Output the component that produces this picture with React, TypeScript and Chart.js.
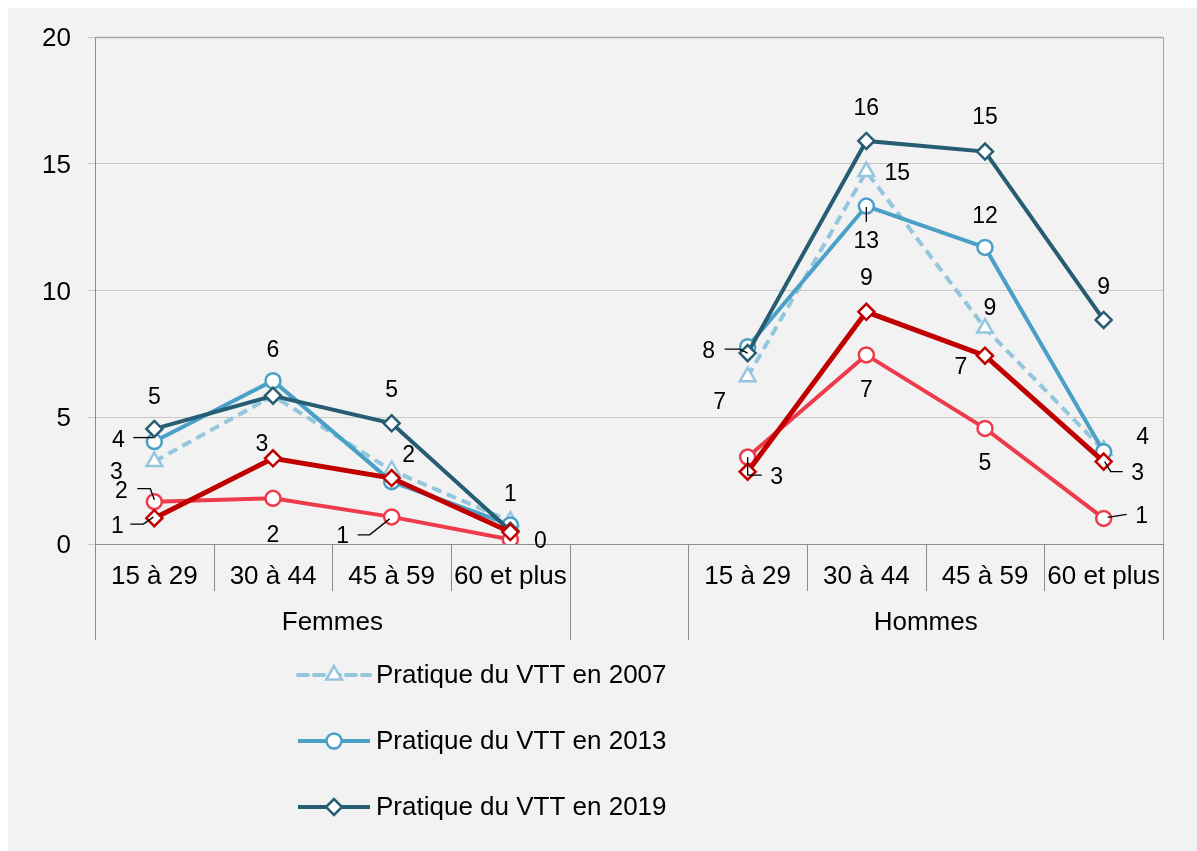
import React, { useEffect, useRef } from 'react';
import { Chart, registerables } from 'chart.js';

Chart.register(...registerables);

// ---------- Data ----------
const GROUPS = ['Femmes', 'Hommes'];
const AGE_GROUPS = ['15 à 29', '30 à 44', '45 à 59', '60 et plus'];
const CATEGORIES = [...AGE_GROUPS, '', ...AGE_GROUPS];

const LEGEND_LABELS = [
  'Pratique du VTT en 2007',
  'Pratique du VTT en 2013',
  'Pratique du VTT en 2019',
];

const VTT_2007 = [3.25, 5.85, 2.9, 0.9, null, 6.6, 14.69, 8.52, 3.7];
const VTT_2013 = [4.04, 6.44, 2.46, 0.75, null, 7.78, 13.33, 11.7, 3.64];
const VTT_2019 = [4.54, 5.85, 4.76, 0.52, null, 7.53, 15.9, 15.48, 8.84];
const SERIE_ROUGE_CLAIR = [1.67, 1.8, 1.07, 0.18, null, 3.43, 7.46, 4.56, 1.01];
const SERIE_ROUGE_FONCE = [1.02, 3.38, 2.6, 0.47, null, 2.85, 9.16, 7.43, 3.25];

const Y_MIN = 0;
const Y_MAX = 20;
const Y_STEP = 5;

// ---------- Styles ----------
const FONT = "'Liberation Sans', Arial, sans-serif";
const C_2007 = '#94c6dd';
const C_2013 = '#4aa0c6';
const C_2019 = '#265d73';
const C_RED_LIGHT = '#ee3b4b';
const C_RED_DARK = '#c00000';
const AXIS_COLOR = '#8c8c8c';
const GRID_COLOR = '#c8c8c8';

type Lbl = { dx: number; dy: number; leader?: number[][] } | null;

// label placement offsets (pixels, relative to each point)
const LABEL_LAYOUT: Lbl[][] = [
  [{ dx: -38, dy: 10 }, null, null, null, null, { dx: -28, dy: 24 }, { dx: 31, dy: 1 }, { dx: 5, dy: -21 }, null],
  [
    { dx: -36, dy: -2, leader: [[-21, -4], [-1, -4]] },
    { dx: 0, dy: -32 },
    { dx: 17, dy: -27 },
    { dx: 0, dy: -32 },
    null,
    null,
    { dx: 0, dy: 34, leader: [[0, 1], [0, 16]] },
    { dx: 0, dy: -32 },
    { dx: 39, dy: -16 },
  ],
  [
    { dx: 0, dy: -33 },
    null,
    { dx: 0, dy: -34 },
    null,
    null,
    { dx: -39, dy: -3, leader: [[-23, -4], [-8, -4], [0, 0]] },
    { dx: 0, dy: -34 },
    { dx: 0, dy: -35 },
    { dx: 0, dy: -34 },
  ],
  [
    { dx: -33, dy: -12, leader: [[-17, -13], [-4, -13], [0, -2]] },
    { dx: 0, dy: 36 },
    { dx: -49, dy: 18, leader: [[-34, 18], [-22, 18], [-2, 2]] },
    { dx: 30, dy: 1 },
    null,
    { dx: 29, dy: 19, leader: [[0, 0], [0, 18], [14, 18]] },
    { dx: 0, dy: 34 },
    { dx: 0, dy: 34 },
    { dx: 38, dy: -3, leader: [[4, -1], [23, -4]] },
  ],
  [
    { dx: -37, dy: 7, leader: [[-24, 6], [-11, 6], [-1, -1]] },
    { dx: -11, dy: -15 },
    null,
    null,
    null,
    null,
    { dx: 0, dy: -35 },
    { dx: -24, dy: 11 },
    { dx: 34, dy: 11, leader: [[1, 0], [7, 10], [19, 10]] },
  ],
];

function drawMarker(ctx: CanvasRenderingContext2D, style: string, x: number, y: number, r: number) {
  ctx.beginPath();
  if (style === 'circle') {
    ctx.arc(x, y, r, 0, Math.PI * 2);
  } else if (style === 'triangle') {
    for (let k = 0; k < 3; k++) {
      const a = (k * 2 * Math.PI) / 3;
      const px = x + Math.sin(a) * r;
      const py = y - Math.cos(a) * r;
      if (k === 0) ctx.moveTo(px, py);
      else ctx.lineTo(px, py);
    }
  } else {
    ctx.moveTo(x - r, y);
    ctx.lineTo(x, y - r);
    ctx.lineTo(x + r, y);
    ctx.lineTo(x, y + r);
  }
  ctx.closePath();
  ctx.fill();
  ctx.stroke();
}

const decorPlugin = {
  id: 'decor',
  afterDatasetsDraw(chart: any) {
    const ctx: CanvasRenderingContext2D = chart.ctx;
    ctx.save();
    ctx.font = `23px ${FONT}`;
    ctx.fillStyle = '#000';
    ctx.textAlign = 'center';
    ctx.textBaseline = 'middle';
    ctx.strokeStyle = '#000';
    ctx.lineWidth = 1.3;
    chart.data.datasets.forEach((ds: any, di: number) => {
      const meta = chart.getDatasetMeta(di);
      ds.data.forEach((v: number | null, i: number) => {
        const cfg = LABEL_LAYOUT[di][i];
        if (v === null || !cfg) return;
        const pt = meta.data[i];
        if (cfg.leader) {
          ctx.beginPath();
          cfg.leader.forEach((p, k) => {
            if (k === 0) ctx.moveTo(pt.x + p[0], pt.y + p[1]);
            else ctx.lineTo(pt.x + p[0], pt.y + p[1]);
          });
          ctx.stroke();
        }
        ctx.fillText(String(Math.round(v)), pt.x + cfg.dx, pt.y + cfg.dy + 1.5);
      });
    });
    ctx.restore();
  },
  afterDraw(chart: any) {
    const ctx: CanvasRenderingContext2D = chart.ctx;
    const xs = chart.scales.x;
    const area = chart.chartArea;
    const n = CATEGORIES.length;
    const step = xs.getPixelForValue(1) - xs.getPixelForValue(0);
    ctx.save();
    // plot border top / right
    ctx.strokeStyle = '#a6a6a6';
    ctx.lineWidth = 1.3;
    ctx.beginPath();
    ctx.moveTo(area.left, area.top + 0.5);
    ctx.lineTo(area.right, area.top + 0.5);
    ctx.stroke();
    // separators
    ctx.strokeStyle = AXIS_COLOR;
    ctx.lineWidth = 1;
    for (let k = 0; k <= n; k++) {
      const bx = Math.round(k === n ? area.right : xs.getPixelForValue(k) - step / 2) + 0.5;
      const long = k === 0 || k === n || CATEGORIES[k] === '' || CATEGORIES[k - 1] === '';
      ctx.beginPath();
      ctx.moveTo(bx, area.bottom);
      ctx.lineTo(bx, area.bottom + (long ? 96 : 47));
      ctx.stroke();
    }
    ctx.beginPath();
    ctx.strokeStyle = '#a6a6a6';
    ctx.moveTo(Math.round(area.right) + 0.5, area.top);
    ctx.lineTo(Math.round(area.right) + 0.5, area.bottom);
    ctx.stroke();
    // group labels
    ctx.font = `26px ${FONT}`;
    ctx.fillStyle = '#000';
    ctx.textAlign = 'center';
    ctx.textBaseline = 'middle';
    const groupRanges = [
      [0, AGE_GROUPS.length - 1],
      [AGE_GROUPS.length + 1, 2 * AGE_GROUPS.length],
    ];
    GROUPS.forEach((g, gi) => {
      const [a, b] = groupRanges[gi];
      const cx = (xs.getPixelForValue(a) + xs.getPixelForValue(b)) / 2;
      ctx.fillText(g, cx, area.bottom + 79);
    });
    // legend
    const styles = [
      { color: C_2007, dash: [10, 6], marker: 'triangle', r: 9 },
      { color: C_2013, dash: [], marker: 'circle', r: 7.5 },
      { color: C_2019, dash: [], marker: 'diamond', r: 8 },
    ];
    LEGEND_LABELS.forEach((lab, li) => {
      const st = styles[li];
      const y = area.bottom + 131 + li * 66;
      const x0 = area.left + 203;
      const x1 = area.left + 275;
      const xm = (x0 + x1) / 2;
      ctx.strokeStyle = st.color;
      ctx.lineWidth = 4;
      ctx.setLineDash(st.dash);
      ctx.lineCap = st.dash.length ? 'round' : 'butt';
      ctx.beginPath();
      ctx.moveTo(x0, y);
      ctx.lineTo(x1, y);
      ctx.stroke();
      ctx.setLineDash([]);
      ctx.lineCap = 'butt';
      ctx.fillStyle = '#fff';
      ctx.lineWidth = 2.5;
      drawMarker(ctx, st.marker, xm, y, st.r);
      ctx.fillStyle = '#000';
      ctx.textAlign = 'left';
      ctx.fillText(lab, x1 + 6, y + 1);
    });
    ctx.restore();
  },
};

function makeDataset(label: string, data: (number | null)[], color: string, style: string, radius: number, width: number, order: number, dash: number[] = []) {
  return {
    label,
    data,
    borderColor: color,
    backgroundColor: color,
    borderWidth: width,
    borderDash: dash,
    pointStyle: style,
    pointRadius: radius,
    pointHoverRadius: radius,
    pointBorderWidth: 2.5,
    pointBackgroundColor: '#ffffff',
    pointBorderColor: color,
    tension: 0,
    spanGaps: false,
    order,
  };
}

export default function App() {
  const ref = useRef<HTMLCanvasElement | null>(null);

  useEffect(() => {
    if (!ref.current) return;
    const chart = new Chart(ref.current, {
      type: 'line',
      data: {
        labels: CATEGORIES,
        datasets: [
          makeDataset(LEGEND_LABELS[0], VTT_2007, C_2007, 'triangle', 9, 4, 5, [10, 6]),
          makeDataset(LEGEND_LABELS[1], VTT_2013, C_2013, 'circle', 7.5, 4, 4),
          makeDataset(LEGEND_LABELS[2], VTT_2019, C_2019, 'rectRot', 8, 4, 3),
          makeDataset('Série rouge clair', SERIE_ROUGE_CLAIR, C_RED_LIGHT, 'circle', 7.5, 4, 2),
          makeDataset('Série rouge foncé', SERIE_ROUGE_FONCE, C_RED_DARK, 'rectRot', 8, 5, 1),
        ] as any,
      },
      options: {
        animation: false,
        responsive: false,
        devicePixelRatio: 1,
        layout: { padding: { left: 0, top: 29, right: 34, bottom: 207 } },
        plugins: {
          legend: { display: false },
          tooltip: { enabled: false },
        },
        scales: {
          x: {
            type: 'category',
            offset: true,
            grid: { display: true, drawOnChartArea: false, drawTicks: false, offset: true },
            border: { display: true, color: AXIS_COLOR, width: 1 },
            ticks: {
              color: '#000',
              font: { family: FONT, size: 26 },
              padding: 17,
              maxRotation: 0,
              autoSkip: false,
            },
            afterFit: (s: any) => {
              s.height = 100;
            },
          },
          y: {
            min: Y_MIN,
            max: Y_MAX,
            ticks: {
              stepSize: Y_STEP,
              color: '#000',
              font: { family: FONT, size: 26, lineHeight: 0.8 },
              padding: 17,
              labelOffset: 2,
            },
            grid: { color: GRID_COLOR, tickColor: GRID_COLOR, tickLength: 7, lineWidth: 1 },
            border: { display: true, color: AXIS_COLOR, width: 1 },
            afterFit: (s: any) => {
              s.width = 87;
            },
          },
        },
      } as any,
      plugins: [decorPlugin],
    });
    return () => chart.destroy();
  }, []);

  return (
    <div
      style={{
        position: 'fixed',
        left: 8,
        top: 8,
        right: 0,
        bottom: 0,
        background: '#f2f2f2',
        overflow: 'hidden',
      }}
    >
      <canvas ref={ref} width={1189} height={843} style={{ display: 'block', width: 1189, height: 843 }} />
    </div>
  );
}
